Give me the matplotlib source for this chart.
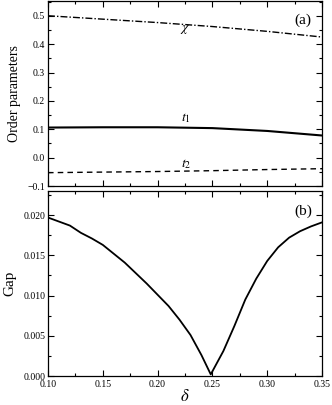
import numpy as np
import matplotlib
matplotlib.use('Agg')
import matplotlib.pyplot as plt
from matplotlib.ticker import MultipleLocator

plt.rcParams['font.family'] = ['Liberation Serif', 'DejaVu Serif']
plt.rcParams['mathtext.fontset'] = 'stix'

# order parameters vs doping
delta_op = [0.10, 0.15, 0.20, 0.25, 0.30, 0.35]
chi = [0.500, 0.488, 0.476, 0.462, 0.445, 0.425]
t1 = [0.106, 0.107, 0.107, 0.104, 0.094, 0.078]
t2 = [-0.053, -0.051, -0.049, -0.046, -0.042, -0.039]

# gap vs doping
delta_gap = [0.10, 0.12, 0.13, 0.14, 0.15, 0.16, 0.17, 0.18, 0.19, 0.20,
             0.21, 0.22, 0.23, 0.24, 0.2485, 0.26, 0.27, 0.28, 0.29, 0.30,
             0.31, 0.32, 0.33, 0.34, 0.35]
gap = [0.0197, 0.0187, 0.0178, 0.0171, 0.0163, 0.0152, 0.0141, 0.0128, 0.0115, 0.0101,
       0.0087, 0.0070, 0.0051, 0.0026, 0.0002, 0.0031, 0.0062, 0.0095, 0.0121, 0.0143,
       0.0160, 0.0172, 0.0180, 0.0186, 0.0191]

fig = plt.figure(figsize=(3.32, 4.05), dpi=100)
ax1 = fig.add_axes([48/332, 1 - 186/405, 274/332, 185/405])
ax2 = fig.add_axes([48/332, 1 - 376/405, 274/332, 185/405])

ax1.plot(delta_op, chi, color='black', lw=1.0, linestyle=(0, (5, 1.5, 1, 1.5)))
ax1.plot(delta_op, t1, color='black', lw=1.5)
ax1.plot(delta_op, t2, color='black', lw=1.0, linestyle=(0, (4, 3)))
ax1.set_xlim(0.10, 0.35)
ax1.set_ylim(-0.1, 0.552)
ax1.yaxis.set_major_locator(MultipleLocator(0.1))
ax1.yaxis.set_minor_locator(MultipleLocator(0.05))
ax1.set_ylabel('Order parameters', fontsize=10, labelpad=5)
ax1.tick_params(labelbottom=False)
ax1.text(0.225, 0.453, r'$\chi$', fontsize=10, ha='center', va='center')
ax1.text(0.226, 0.14, r'$t_1$', fontsize=10, ha='center', va='center')
ax1.text(0.226, -0.022, r'$t_2$', fontsize=10, ha='center', va='center')
ax1.text(0.333, 0.485, '(a)', fontsize=11, ha='center', va='center')

ax2.plot(delta_gap, gap, color='black', lw=1.3)
ax2.set_xlim(0.10, 0.35)
ax2.set_ylim(0, 0.023)
ax2.yaxis.set_major_locator(MultipleLocator(0.005))
ax2.yaxis.set_minor_locator(MultipleLocator(0.0025))
ax2.yaxis.set_major_formatter(plt.FormatStrFormatter('%.3f'))
ax2.xaxis.set_major_formatter(plt.FormatStrFormatter('%.2f'))
ax2.set_ylabel('Gap', fontsize=11, labelpad=5)
ax2.set_xlabel(r'$\delta$', fontsize=12, labelpad=0)
ax2.text(0.333, 0.0205, '(b)', fontsize=11, ha='center', va='center')

for ax in (ax1, ax2):
    ax.xaxis.set_major_locator(MultipleLocator(0.05))
    ax.xaxis.set_minor_locator(MultipleLocator(0.025))
    ax.tick_params(which='both', direction='in', top=True, right=True, labelsize=7, pad=2)
    ax.tick_params(which='major', length=4, width=0.8)
    ax.tick_params(which='minor', length=2, width=0.8)
    for s in ax.spines.values():
        s.set_linewidth(0.9)
ax2.tick_params(axis='x', which='major', pad=3)

fig.savefig('out.png', dpi=100)
